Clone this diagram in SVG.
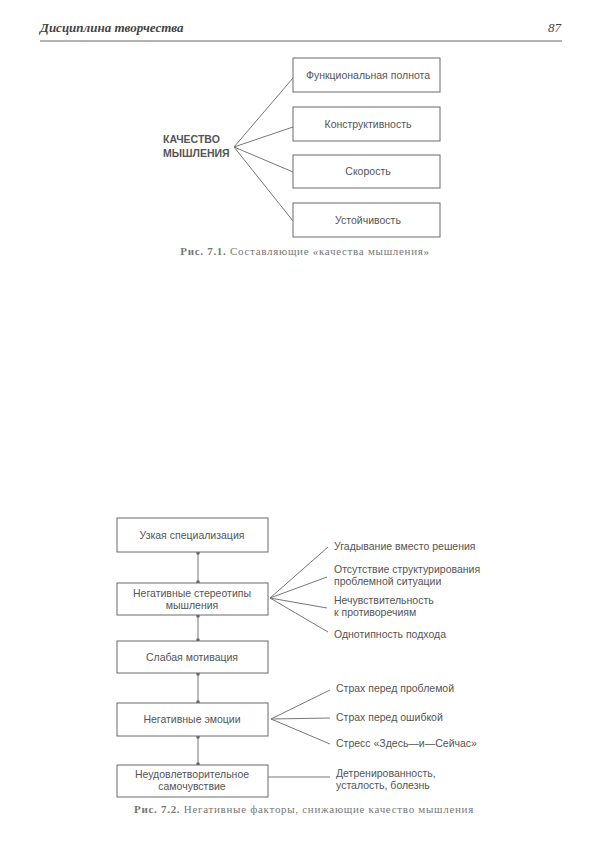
<svg xmlns="http://www.w3.org/2000/svg" width="597" height="857" viewBox="0 0 597 857">
<style>
.box{fill:#fff;stroke:#6a6a6a;stroke-width:1}
.ln{stroke:#777;stroke-width:1;fill:none}
.t{font-family:"Liberation Sans",Arial,sans-serif;font-size:10.5px;fill:#555}
.tc{text-anchor:middle}
.hd{font-family:"Liberation Serif","Times New Roman",serif;font-style:italic;font-weight:bold;font-size:13px;fill:#444}
.cap{font-family:"Liberation Serif","Times New Roman",serif;font-size:11px;letter-spacing:0.7px;fill:#777;text-anchor:middle}
.dot{fill:#666}
</style>
<rect width="597" height="857" fill="#fff"/>
<g id="header">
<text class="hd" x="40" y="32">Дисциплина творчества</text>
<text class="hd" x="561" y="32" text-anchor="end" style="font-weight:normal">87</text>
<line x1="40" y1="41" x2="562" y2="41" stroke="#666" stroke-width="1.2"/>
</g>
<g id="fig1">
<g id="connectors1">
<line class="ln" x1="234" y1="147" x2="293" y2="78"/>
<line class="ln" x1="234" y1="147" x2="293" y2="127"/>
<line class="ln" x1="234" y1="147" x2="293" y2="172"/>
<line class="ln" x1="234" y1="147" x2="293" y2="221"/>
</g>
<g id="quality"><text class="t" x="163" y="143" style="font-weight:bold">КАЧЕСТВО</text><text class="t" x="163" y="157" style="font-weight:bold">МЫШЛЕНИЯ</text></g>
<g id="b1"><rect class="box" x="293" y="58" width="147" height="34"/><text class="t tc" x="368" y="79">Функциональная полнота</text></g>
<g id="b2"><rect class="box" x="293" y="107" width="147" height="34"/><text class="t tc" x="368" y="128">Конструктивность</text></g>
<g id="b3"><rect class="box" x="293" y="155" width="147" height="33"/><text class="t tc" x="368" y="175">Скорость</text></g>
<g id="b4"><rect class="box" x="293" y="203" width="147" height="34"/><text class="t tc" x="368" y="224">Устойчивость</text></g>
<text class="cap" x="305" y="255"><tspan font-weight="bold">Рис. 7.1.</tspan> Составляющие «качества мышления»</text>
</g>
<g id="fig2">
<g id="connectors2">
<line class="ln" x1="198" y1="552" x2="198" y2="583"/>
<line class="ln" x1="198" y1="615" x2="198" y2="641"/>
<line class="ln" x1="198" y1="673" x2="198" y2="703"/>
<line class="ln" x1="198" y1="736" x2="198" y2="765"/>
<circle class="dot" cx="198" cy="553" r="1.8"/><circle class="dot" cx="198" cy="582" r="1.8"/>
<circle class="dot" cx="198" cy="616" r="1.8"/><circle class="dot" cx="198" cy="640" r="1.8"/>
<circle class="dot" cx="198" cy="674" r="1.8"/><circle class="dot" cx="198" cy="702" r="1.8"/>
<circle class="dot" cx="198" cy="737" r="1.8"/><circle class="dot" cx="198" cy="764" r="1.8"/>
<line class="ln" x1="270" y1="598" x2="328" y2="547"/>
<line class="ln" x1="270" y1="598" x2="327" y2="577"/>
<line class="ln" x1="270" y1="598" x2="327" y2="608"/>
<line class="ln" x1="270" y1="598" x2="328" y2="632"/>
<line class="ln" x1="271" y1="719" x2="330" y2="690"/>
<line class="ln" x1="271" y1="719" x2="330" y2="718"/>
<line class="ln" x1="271" y1="719" x2="330" y2="744"/>
<line class="ln" x1="268" y1="777" x2="330" y2="777"/>
</g>
<g id="n1"><rect class="box" x="117" y="518" width="151" height="34"/><text class="t tc" x="192" y="539">Узкая специализация</text></g>
<g id="n2"><rect class="box" x="117" y="583" width="151" height="32"/><text class="t tc" x="192" y="597">Негативные стереотипы</text><text class="t tc" x="192" y="609">мышления</text></g>
<g id="n3"><rect class="box" x="117" y="641" width="151" height="32"/><text class="t tc" x="192" y="661">Слабая мотивация</text></g>
<g id="n4"><rect class="box" x="117" y="703" width="151" height="33"/><text class="t tc" x="192" y="723">Негативные эмоции</text></g>
<g id="n5"><rect class="box" x="117" y="765" width="151" height="32"/><text class="t tc" x="192" y="778">Неудовлетворительное</text><text class="t tc" x="192" y="790">самочувствие</text></g>
<g id="l1"><text class="t" x="334" y="550">Угадывание вместо решения</text></g>
<g id="l2"><text class="t" x="334" y="573">Отсутствие структурирования</text><text class="t" x="334" y="585">проблемной ситуации</text></g>
<g id="l3"><text class="t" x="334" y="604">Нечувствительность</text><text class="t" x="334" y="616">к противоречиям</text></g>
<g id="l4"><text class="t" x="334" y="638">Однотипность подхода</text></g>
<g id="l5"><text class="t" x="336" y="692">Страх перед проблемой</text></g>
<g id="l6"><text class="t" x="336" y="721">Страх перед ошибкой</text></g>
<g id="l7"><text class="t" x="336" y="747">Стресс «Здесь—и—Сейчас»</text></g>
<g id="l8"><text class="t" x="336" y="777">Детренированность,</text><text class="t" x="336" y="789">усталость, болезнь</text></g>
<text class="cap" x="304" y="813"><tspan font-weight="bold">Рис. 7.2.</tspan> Негативные факторы, снижающие качество мышления</text>
</g>
</svg>
